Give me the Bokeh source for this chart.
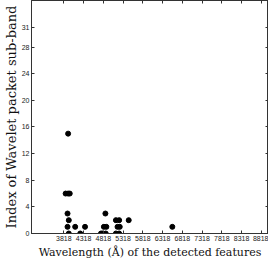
from bokeh.plotting import figure
from bokeh.models import FixedTicker, LinearAxis, Range1d, Title
from bokeh.embed import file_html
from bokeh.resources import INLINE

# Detected features: wavelength (Angstrom) and wavelet packet sub-band index
wavelength = [3927,
              3864, 3927, 3968,
              3912, 4871,
              3944, 5137, 5219, 5461,
              3912, 4106, 4355, 4832, 4895, 5178, 5234, 6565,
              3944, 4234, 4759, 4798, 4880, 5137, 5219]
subband = [15,
           6, 6, 6,
           3, 3,
           2, 2, 2, 2,
           1, 1, 1, 1, 1, 1, 1, 1,
           0, 0, 0, 0, 0, 0, 0]

x_ticks = [3818, 4318, 4818, 5318, 5818, 6318, 6818, 7318, 7818, 8318, 8818]
y_ticks = [0, 4, 8, 12, 16, 20, 24, 28, 31]
x_title = "Wavelength (Å) of the detected features"
y_title = "Index of Wavelet packet sub-band"

AX = "#333333"
TICK_FONT = "Liberation Sans"
LABEL_FONT = "DejaVu Serif"

p = figure(width=268, height=258,
           x_range=Range1d(3000, 9000), y_range=Range1d(0, 35),
           output_backend="svg", toolbar_location=None,
           min_border_left=0, min_border_right=0,
           min_border_top=0, min_border_bottom=0)

p.scatter(wavelength, subband, size=5, color="black")

p.xgrid.visible = False
p.ygrid.visible = False
p.outline_line_color = AX
p.background_fill_color = "white"
p.border_fill_color = "white"

for ax, ticks in ((p.xaxis[0], x_ticks), (p.yaxis[0], y_ticks)):
    ax.ticker = FixedTicker(ticks=ticks)
    ax.minor_tick_line_color = None
    ax.major_tick_in = 3
    ax.major_tick_out = 0
    ax.axis_line_color = AX
    ax.major_tick_line_color = AX
    ax.major_label_text_font = TICK_FONT
    ax.major_label_text_font_size = "7px"
    ax.major_label_text_color = "#222222"
    ax.major_label_standoff = 2
    ax.axis_label_text_font = LABEL_FONT
    ax.axis_label_text_font_style = "normal"
    ax.axis_label_text_color = "#111111"
    ax.axis_label_standoff = 0

p.yaxis.axis_label = y_title
p.yaxis.axis_label_text_font_size = "13px"

p.add_layout(Title(text=x_title, align="center", standoff=0, offset=0,
                   text_font=LABEL_FONT, text_font_size="11px",
                   text_font_style="normal", text_color="#111111"), "below")

top = LinearAxis(ticker=FixedTicker(ticks=x_ticks),
                 major_label_overrides={t: "" for t in x_ticks})
right = LinearAxis(ticker=FixedTicker(ticks=y_ticks),
                   major_label_overrides={t: "" for t in y_ticks})
for ax in (top, right):
    ax.minor_tick_line_color = None
    ax.major_tick_in = 3
    ax.major_tick_out = 0
    ax.axis_line_color = AX
    ax.major_tick_line_color = AX
    ax.major_label_text_font_size = "1px"
    ax.major_label_standoff = 0
p.add_layout(top, "above")
p.add_layout(right, "right")

open("out.html", "w").write(file_html(p, INLINE))
